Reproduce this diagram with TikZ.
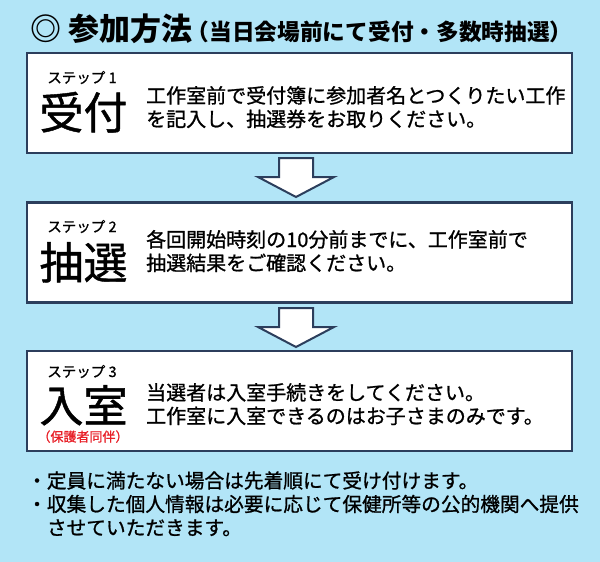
\documentclass[tikz,border=0pt]{standalone}
\usepackage{fontspec}
\setmainfont{Noto Sans CJK JP}
\newfontfamily\jpmid{Noto Sans CJK JP}[FakeBold=1]
\usepackage{xcolor}
\definecolor{skybg}{RGB}{178,229,247}
\definecolor{boxline}{RGB}{44,62,92}
\definecolor{notered}{RGB}{232,32,40}
\usetikzlibrary{positioning,calc}

\begin{document}
\begin{tikzpicture}[
  x=1pt, y=-1pt,
  stepbox/.style={rectangle, draw=boxline, line width=2.2pt, fill=white,
              minimum width=545pt, minimum height=100pt, inner sep=0pt},
  steplabel/.style={font=\jpmid\fontsize{14.5}{16}\selectfont, anchor=base, inner sep=0pt},
  bigword/.style={font=\jpmid\fontsize{44}{48}\selectfont, anchor=base, inner sep=0pt},
  bodytext/.style={font=\jpmid\fontsize{20}{23.5}\selectfont, align=left,
              anchor=base west, inner sep=0pt},
  blockarr/.style={draw=boxline, line width=2pt, fill=white, line join=miter}
]
\fill[skybg] (0,0) rectangle (600,562);
\useasboundingbox (0,0) rectangle (600,562);

%% heading
\node[anchor=base west, inner sep=0pt, font=\fontsize{31}{34}\selectfont\bfseries]
  (title) at (30,40) {◎ 参加方法};
\node[anchor=base west, inner sep=0pt, font=\fontsize{22.7}{25}\selectfont\bfseries]
  (subtitle) at ([xshift=-6pt]title.base east) {（当日会場前にて受付・多数時抽選）};

%% the three steps
\node[stepbox] (box1) at (299.5,103) {};
\node[stepbox] (box2) at (299.5,252.5) {};
\node[stepbox] (box3) at (299.5,401) {};

\node[steplabel] (lbl1) at (82,83) {ステップ 1};
\node[bigword] (word1) at (83.5,129) {受付};
\node[bodytext] (text1) at (146,126.5)
  {工作室前で受付簿に参加者名とつくりたい工作\\を記入し、抽選券をお取りください。};

\node[steplabel] (lbl2) at (82,232) {ステップ 2};
\node[bigword] (word2) at (83.5,279) {抽選};
\node[bodytext] (text2) at (146,270.5)
  {各回開始時刻の10分前までに、工作室前で\\抽選結果をご確認ください。};

\node[steplabel] (lbl3) at (82,377) {ステップ 3};
\node[bigword] (word3) at (83.5,422) {入室};
\node[steplabel, font=\jpmid\fontsize{13}{15}\selectfont, text=notered] (note3) at (83,441.5)
  {（保護者同伴）};
\node[bodytext] (text3) at (146,423.5)
  {当選者は入室手続きをしてください。\\工作室に入室できるのはお子さまのみです。};

%% down arrows between the boxes
\foreach \t in {158,308} {
  \draw[blockarr] (279,\t) -- (313,\t) -- (313,\t+19) -- (334,\t+19)
    -- (296,\t+39) -- (258,\t+19) -- (279,\t+19) -- cycle;
}

%% notes
\node[bodytext, font=\jpmid\fontsize{19.7}{23.5}\selectfont] (notes) at (27,535)
  {・定員に満たない場合は先着順にて受け付けます。\\
   ・収集した個人情報は必要に応じて保健所等の公的機関へ提供\\
   \hphantom{・}させていただきます。};

\end{tikzpicture}
\end{document}
